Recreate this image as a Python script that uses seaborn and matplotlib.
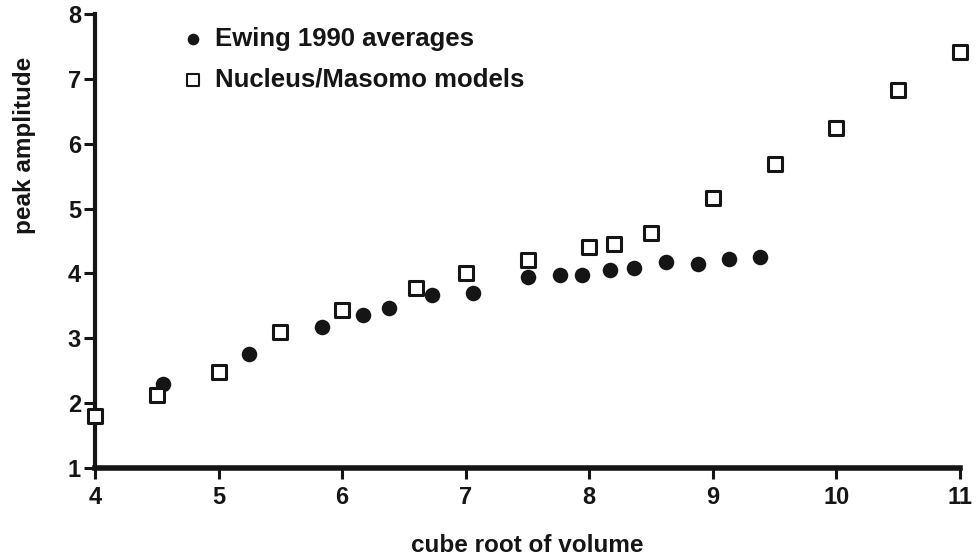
import matplotlib
matplotlib.use("Agg")
import matplotlib.pyplot as plt
import seaborn as sns
import pandas as pd

ewing_x = [4.55, 5.25, 5.84, 6.17, 6.38, 6.73, 7.06, 7.50, 7.76, 7.94, 8.17, 8.36, 8.62, 8.88, 9.13, 9.38]
ewing_y = [2.30, 2.76, 3.18, 3.36, 3.46, 3.67, 3.70, 3.94, 3.97, 3.97, 4.06, 4.09, 4.17, 4.15, 4.23, 4.25]
model_x = [4.0, 4.5, 5.0, 5.5, 6.0, 6.6, 7.0, 7.5, 8.0, 8.2, 8.5, 9.0, 9.5, 10.0, 10.5, 11.0]
model_y = [1.80, 2.12, 2.48, 3.09, 3.43, 3.78, 4.00, 4.21, 4.40, 4.45, 4.63, 5.17, 5.68, 6.25, 6.83, 7.41]
x_ticks = [4, 5, 6, 7, 8, 9, 10, 11]
y_ticks = [1, 2, 3, 4, 5, 6, 7, 8]
labels = ["Ewing 1990 averages", "Nucleus/Masomo models"]

sns.set_theme(style="ticks")
plt.rcParams['font.family'] = ['Liberation Sans', 'DejaVu Sans']

ink = "#151515"
fig = plt.figure(figsize=(9.76, 5.58), dpi=100)
ax = fig.add_axes([95/976, 1 - 468/558, 865/976, 454/558])

df_e = pd.DataFrame({"x": ewing_x, "y": ewing_y})
df_m = pd.DataFrame({"x": model_x, "y": model_y})

sns.scatterplot(data=df_e, x="x", y="y", ax=ax, marker="o", s=125, color=ink,
                edgecolor=ink, linewidth=0, label=labels[0], clip_on=False, zorder=3)
sns.scatterplot(data=df_m, x="x", y="y", ax=ax, marker="s", s=90, facecolor="white",
                edgecolor=ink, linewidth=2.2, label=labels[1], clip_on=False, zorder=4)

ax.set_xlim(4, 11)
ax.set_ylim(1, 8)
ax.set_xticks(x_ticks)
ax.set_yticks(y_ticks)
ax.set_xticklabels([str(t) for t in x_ticks], fontsize=17, fontweight="bold", color=ink)
ax.set_yticklabels([str(t) for t in y_ticks], fontsize=17, fontweight="bold", color=ink)
ax.tick_params(axis="both", direction="out", length=8, width=2.2, color=ink)
ax.tick_params(axis="x", pad=5)
ax.tick_params(axis="y", pad=2)
ax.spines["left"].set_linewidth(3)
ax.spines["bottom"].set_linewidth(4)
for side in ["left", "bottom"]:
    ax.spines[side].set_color(ink)
sns.despine(ax=ax)

ax.set_xlabel("cube root of volume", fontsize=17.5, fontweight="bold", color=ink)
ax.set_ylabel("peak amplitude", fontsize=17.5, fontweight="bold", color=ink)
ax.xaxis.set_label_coords(0.5, -0.145)
ax.yaxis.set_label_coords(-0.082, 0.71)
ax.yaxis.label.set_verticalalignment("center")

leg = ax.legend(loc="upper left", bbox_to_anchor=(0.0807, 1.0), frameon=False,
                fontsize=18.5, handletextpad=0.25, labelspacing=0.66, borderpad=0,
                handlelength=1.2)
for t in leg.get_texts():
    t.set_fontweight("bold")
    t.set_color(ink)
hs = leg.legend_handles
hs[0].set_sizes([70])
hs[1].set_sizes([80])
hs[1].set_linewidth(1.5)

fig.savefig("out.png", dpi=100)
